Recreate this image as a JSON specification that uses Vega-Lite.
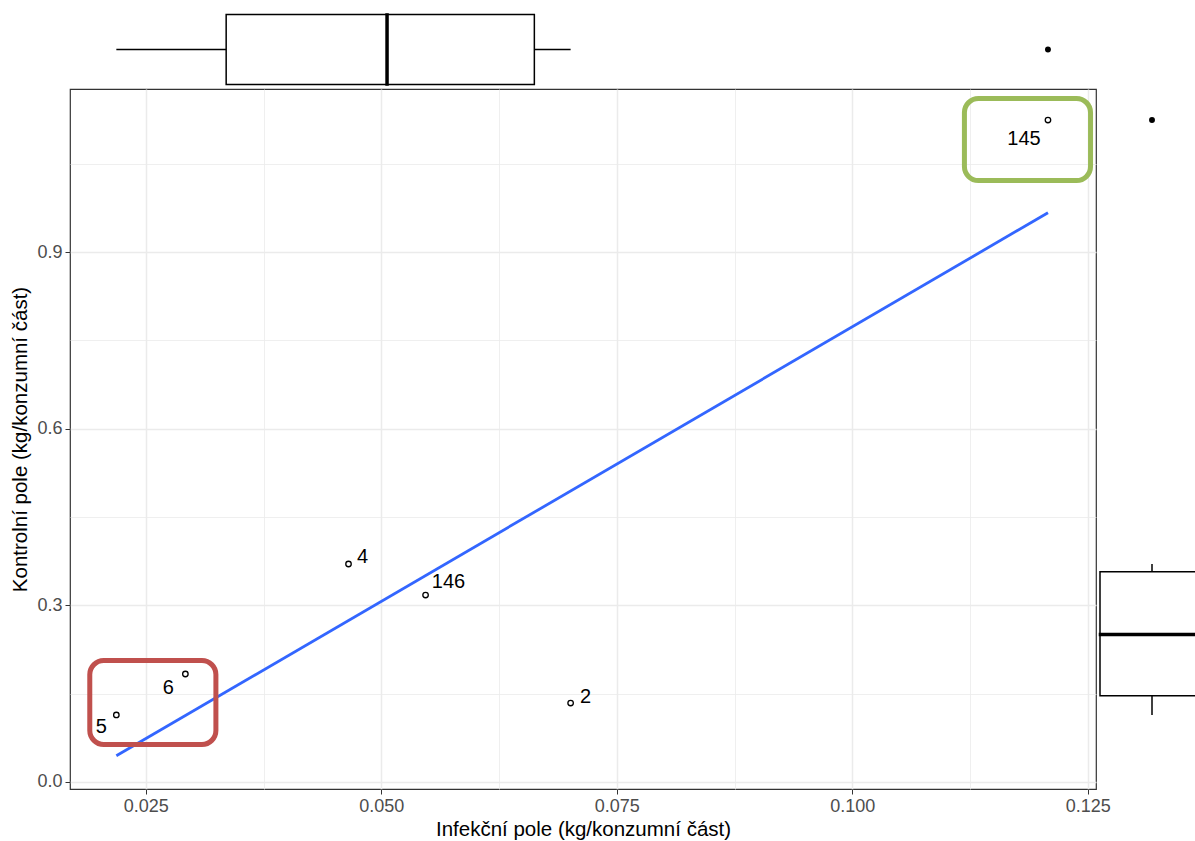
{
  "$schema": "https://vega.github.io/schema/vega-lite/v6.json",
  "background": "white",
  "padding": {"left": 10, "top": 0, "right": 0, "bottom": 0},
  "datasets": {
    "body": [
      {"id": "5", "infekcni": 0.02187, "kontrol": 0.1138, "lx": 0.02027, "ly": 0.0934, "skupina": "vše"},
      {"id": "6", "infekcni": 0.0292, "kontrol": 0.1834, "lx": 0.02739, "ly": 0.1596, "skupina": "vše"},
      {"id": "4", "infekcni": 0.04652, "kontrol": 0.3702, "lx": 0.048, "ly": 0.3821, "skupina": "vše"},
      {"id": "146", "infekcni": 0.0547, "kontrol": 0.3175, "lx": 0.05714, "ly": 0.3396, "skupina": "vše"},
      {"id": "2", "infekcni": 0.0701, "kontrol": 0.1341, "lx": 0.0717, "ly": 0.1443, "skupina": "vše"},
      {"id": "145", "infekcni": 0.12078, "kontrol": 1.1241, "lx": 0.11823, "ly": 1.0919, "skupina": "vše"}
    ],
    "ramecky": [
      {"oblast": "nízké", "x1": 0.01905, "x2": 0.03244, "y1": 0.0637, "y2": 0.2063},
      {"oblast": "vysoké", "x1": 0.11191, "x2": 0.1253, "y1": 1.0214, "y2": 1.1606}
    ]
  },
  "spacing": 0,
  "bounds": "flush",
  "vconcat": [
    {
      "width": 1026,
      "height": 89,
      "view": {"stroke": null},
      "data": {"name": "body"},
      "mark": {
        "type": "boxplot",
        "size": 70,
        "extent": 1.5,
        "opacity": 1,
        "box": {"fill": "white", "stroke": "black", "strokeWidth": 1.5, "opacity": 1},
        "median": {"color": "black", "stroke": "black", "strokeWidth": 2.5, "thickness": 1, "opacity": 1},
        "rule": {"color": "black", "strokeWidth": 1.5, "opacity": 1},
        "outliers": {"filled": true, "color": "black", "size": 35, "opacity": 1}
      },
      "encoding": {
        "x": {"field": "infekcni", "type": "quantitative", "scale": {"domain": [0.01695, 0.12588], "nice": false, "zero": false}, "axis": null},
        "y": {"field": "skupina", "type": "nominal", "scale": {"range": [14, 85], "paddingInner": 0, "paddingOuter": 0}, "axis": null}
      }
    },
    {
      "spacing": 0,
      "bounds": "flush",
      "hconcat": [
        {
          "width": 1026,
          "height": 700,
          "view": {"stroke": "#333333", "strokeWidth": 1.2},
          "layer": [
            {
              "data": {"name": "body"},
              "transform": [{"regression": "kontrol", "on": "infekcni"}],
              "mark": {"type": "line", "color": "#3366FF", "strokeWidth": 2.8},
              "encoding": {
                "x": {
                  "field": "infekcni", "type": "quantitative", "title": "Infekční pole (kg/konzumní část)",
                  "scale": {"domain": [0.01695, 0.12588], "nice": false, "zero": false},
                  "axis": {
                    "values": [0.025, 0.0375, 0.05, 0.0625, 0.075, 0.0875, 0.1, 0.1125, 0.125],
                    "labelExpr": "round(datum.value*1000) % 25 === 0 ? format(datum.value, '.3f') : ''",
                    "labelOverlap": false,
                    "labelFlush": false,
                    "grid": true,
                    "gridColor": "#EBEBEB",
                    "gridWidth": {"condition": {"test": "round(datum.value*1000) % 25 !== 0", "value": 0.8}, "value": 1.5},
                    "tickOpacity": {"condition": {"test": "round(datum.value*1000) % 25 !== 0", "value": 0}, "value": 1},
                    "tickSize": 5,
                    "labelPadding": 3,
                    "titlePadding": 4
                  }
                },
                "y": {
                  "field": "kontrol", "type": "quantitative", "title": "Kontrolní pole (kg/konzumní část)",
                  "scale": {"domain": [-0.0119, 1.1768], "nice": false, "zero": false},
                  "axis": {
                    "values": [0, 0.15, 0.3, 0.45, 0.6, 0.75, 0.9, 1.05],
                    "labelExpr": "round(datum.value*100) % 30 === 0 ? format(datum.value, '.1f') : ''",
                    "labelOverlap": false,
                    "labelFlush": false,
                    "grid": true,
                    "gridColor": "#EBEBEB",
                    "gridWidth": {"condition": {"test": "round(datum.value*100) % 30 !== 0", "value": 0.8}, "value": 1.5},
                    "tickOpacity": {"condition": {"test": "round(datum.value*100) % 30 !== 0", "value": 0}, "value": 1},
                    "tickSize": 5,
                    "labelPadding": 3,
                    "titlePadding": 6
                  }
                }
              }
            },
            {
              "data": {"name": "body"},
              "mark": {"type": "point", "shape": "circle", "filled": false, "color": "black", "strokeWidth": 1.3, "size": 30, "opacity": 1},
              "encoding": {
                "x": {"field": "infekcni", "type": "quantitative", "title": "Infekční pole (kg/konzumní část)"},
                "y": {"field": "kontrol", "type": "quantitative", "title": "Kontrolní pole (kg/konzumní část)"}
              }
            },
            {
              "data": {"name": "body"},
              "mark": {"type": "text", "fontSize": 20, "font": "Liberation Sans", "color": "black", "align": "center", "baseline": "middle"},
              "encoding": {
                "x": {"field": "lx", "type": "quantitative", "title": "Infekční pole (kg/konzumní část)"},
                "y": {"field": "ly", "type": "quantitative", "title": "Kontrolní pole (kg/konzumní část)"},
                "text": {"field": "id", "type": "nominal"}
              }
            },
            {
              "data": {"name": "ramecky"},
              "mark": {"type": "rect", "fill": null, "fillOpacity": 0, "strokeWidth": 5, "cornerRadius": 14},
              "encoding": {
                "x": {"field": "x1", "type": "quantitative", "title": "Infekční pole (kg/konzumní část)"},
                "x2": {"field": "x2"},
                "y": {"field": "y1", "type": "quantitative", "title": "Kontrolní pole (kg/konzumní část)"},
                "y2": {"field": "y2"},
                "stroke": {"field": "oblast", "type": "nominal", "scale": {"domain": ["nízké", "vysoké"], "range": ["#C0504D", "#9BBB59"]}, "legend": null}
              }
            }
          ]
        },
        {
          "width": 99,
          "height": 700,
          "view": {"stroke": null},
          "data": {"name": "body"},
          "mark": {
            "type": "boxplot",
            "size": 104,
            "extent": 1.5,
            "clip": true,
            "opacity": 1,
            "box": {"fill": "white", "stroke": "black", "strokeWidth": 1.5, "opacity": 1},
            "median": {"color": "black", "stroke": "black", "strokeWidth": 2.5, "thickness": 1, "opacity": 1},
            "rule": {"color": "black", "strokeWidth": 1.5, "opacity": 1},
            "outliers": {"filled": true, "color": "black", "size": 35, "opacity": 1}
          },
          "encoding": {
            "y": {"field": "kontrol", "type": "quantitative", "scale": {"domain": [-0.0119, 1.1768], "nice": false, "zero": false}, "axis": null},
            "x": {"field": "skupina", "type": "nominal", "scale": {"range": [4, 108], "paddingInner": 0, "paddingOuter": 0}, "axis": null}
          }
        }
      ]
    }
  ],
  "config": {
    "font": "Liberation Sans",
    "view": {"stroke": null},
    "axis": {
      "domain": false,
      "labelFont": "Liberation Sans",
      "labelFontSize": 18,
      "labelColor": "#4D4D4D",
      "titleFont": "Liberation Sans",
      "titleFontSize": 20.5,
      "titleFontWeight": "normal",
      "titleColor": "black",
      "tickColor": "#333333",
      "tickWidth": 1
    }
  }
}
